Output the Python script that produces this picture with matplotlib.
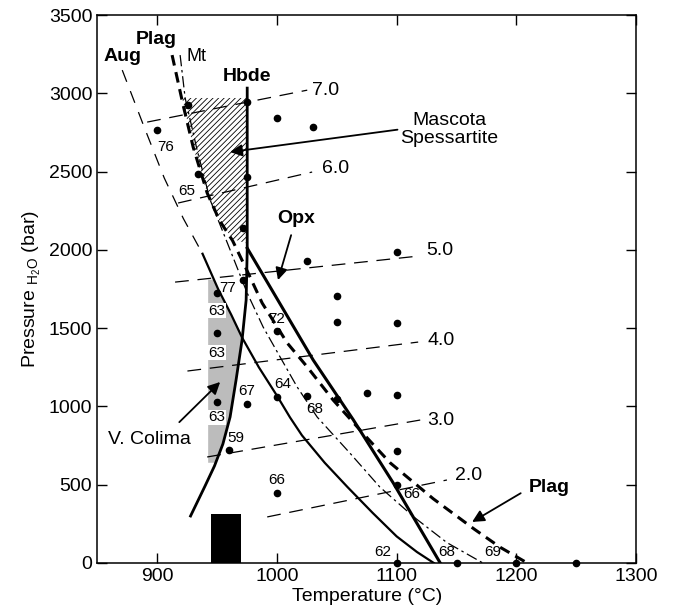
import matplotlib
matplotlib.use('Agg')
import matplotlib.pyplot as plt
import numpy as np

plt.rcParams['font.family'] = ['Liberation Sans', 'DejaVu Sans']
plt.rcParams['mathtext.fontset'] = 'custom'
plt.rcParams['mathtext.rm'] = 'Liberation Sans'
plt.rcParams['hatch.linewidth'] = 0.6

# phase boundaries (T in C, P in bar)
aug_dash_T = [871, 889, 906, 922, 938]
aug_dash_P = [3148, 2790, 2460, 2200, 1975]
aug_T = [938, 951, 962, 971, 985, 1000, 1011, 1021, 1040, 1059, 1080, 1100, 1117, 1131]
aug_P = [1975, 1750, 1585, 1440, 1250, 1070, 930, 815, 640, 485, 320, 170, 70, 0]

plag_T = [912.6, 921.8, 930.2, 941.9, 952, 963, 975, 987.8, 1008.7, 1025.4,
          1047, 1075.5, 1094.7, 1130.6, 1165, 1186.5, 1209]
plag_P = [3244, 2925, 2656, 2363, 2190, 2060, 1870, 1660, 1405, 1252,
          1041, 798, 639, 410, 215, 100, 0]

mt_T = [919.3, 923.5, 933.5, 944.4, 959.4, 975.3, 988.6, 1002.8, 1017, 1033.7,
        1061, 1086, 1115, 1142, 1172]
mt_P = [3244, 2969, 2637, 2318, 2031, 1724, 1507, 1315, 1124, 932,
        702, 485, 290, 130, 0]

hbde_T = [975.3, 975.3, 974.4, 971, 966, 961, 955, 948, 940, 928]
hbde_P = [3033, 1999, 1679, 1424, 1169, 932, 760, 620, 490, 300]

opx_T = [975.3, 1030.4, 1063.8, 1097.2, 1136.4]
opx_P = [2011, 1296, 915, 511, 0]

# shaded fields
hatch_T = [921, 975.3, 975.3, 963, 952, 941.9, 930.2, 921]
hatch_P = [2970, 2970, 2040, 2070, 2190, 2363, 2656, 2970]
grey_T = [942.7, 947.5, 951, 962, 971.2, 966, 961, 955, 949, 942.7]
grey_P = [1810, 1810, 1750, 1585, 1440, 1169, 932, 760, 640, 640]
box_T = [945, 970]
box_P = 310

# water isopleths: start/end points and labels
iso_labels = ['7.0', '6.0', '5.0', '4.0', '3.0', '2.0']
iso_T0 = [891.8, 917.6, 915.1, 925.4, 941.9, 992]
iso_P0 = [2816, 2299, 1794, 1226, 677, 294]
iso_T1 = [1025.4, 1029.5, 1118, 1118, 1119.7, 1142]
iso_P1 = [3020, 2497, 1960, 1411, 913, 530]
iso_lab_T = [1041, 1048.7, 1136.4, 1137, 1137, 1159.8]
iso_lab_P = [3020, 2522, 1999, 1418, 907, 556]

# experiments
pt_T = [900, 926, 975, 1000, 1030, 934, 975, 972, 1025, 1100, 972, 950, 1050, 1050,
        1100, 1000, 950, 950, 975, 1000, 1025, 1050, 1075, 1100, 960, 1100, 1000,
        1100, 1100, 1150, 1200, 1250]
pt_P = [2765, 2925, 2945, 2840, 2785, 2484, 2467, 2140, 1928, 1986, 1807, 1725, 1705, 1539,
        1530, 1481, 1467, 1027, 1016, 1061, 1066, 1047, 1086, 1073, 720, 715, 447,
        495, 0, 0, 0, 0]
pt_lab = ['76', '', '', '', '', '65', '', '', '', '', '77', '63', '', '',
          '', '72', '63', '63', '67', '64', '68', '', '', '', '59', '', '66',
          '66', '62', '68', '69', '']
lab_off = {0: (6, -12), 5: (-8, -12), 10: (-11, -6), 11: (0, -13), 15: (0, 9),
           16: (0, -14), 17: (0, -11), 18: (0, 9), 19: (4, 9), 20: (6, -9),
           24: (5, 9), 26: (0, 9), 27: (11, -6), 28: (-10, 8), 29: (-7, 8), 30: (-17, 8)}

fig = plt.figure(figsize=(6.79, 6.15), dpi=100)
ax = fig.add_axes([0.143, 0.0846, 0.794, 0.891])

ax.fill(grey_T, grey_P, facecolor='#bcbcbc', edgecolor='none', zorder=1)
ax.fill(hatch_T, hatch_P, facecolor='none', edgecolor='black', hatch='//////', lw=0, zorder=1)
ax.bar((box_T[0] + box_T[1]) / 2, box_P, width=box_T[1] - box_T[0], color='black', zorder=2)

for i in range(len(iso_labels)):
    ax.plot([iso_T0[i], iso_T1[i]], [iso_P0[i], iso_P1[i]], color='black', lw=0.9,
            linestyle=(0, (11, 7)), zorder=2)
    ax.text(iso_lab_T[i], iso_lab_P[i], iso_labels[i], fontsize=14, ha='center', va='center')

ax.plot(aug_dash_T, aug_dash_P, color='black', lw=0.9, linestyle=(0, (10, 8)), zorder=3)
ax.plot(aug_T, aug_P, color='black', lw=1.6, zorder=3)
ax.plot(mt_T, mt_P, color='black', lw=0.9, linestyle=(0, (9, 3, 2, 3)), zorder=3)
ax.plot(plag_T, plag_P, color='black', lw=2.2, linestyle=(0, (3.5, 2.2)), zorder=3)
ax.plot(hbde_T, hbde_P, color='black', lw=2.0, zorder=3)
ax.plot(opx_T, opx_P, color='black', lw=2.2, zorder=3)

ax.plot(pt_T, pt_P, 'o', color='black', ms=4.5, clip_on=False, zorder=5)
for i, lab in enumerate(pt_lab):
    if lab:
        box = None
        if lab == '63':
            box = dict(facecolor='white', edgecolor='none', pad=0.3)
        ax.annotate(lab, (pt_T[i], pt_P[i]), xytext=lab_off[i], textcoords='offset points',
                    ha='center', va='center', fontsize=11, bbox=box, zorder=4)

# phase names
ax.text(871, 3235, 'Aug', fontsize=14, fontweight='bold', ha='center', va='center')
ax.text(899, 3345, 'Plag', fontsize=14, fontweight='bold', ha='center', va='center')
ax.text(933, 3235, 'Mt', fontsize=13, ha='center', va='center')
ax.text(975, 3110, 'Hbde', fontsize=14, fontweight='bold', ha='center', va='center')

arrow = dict(arrowstyle='-|>', color='black', lw=1.3, mutation_scale=18)
ax.annotate('Mascota\nSpessartite', xy=(961, 2625), xytext=(1144, 2770), fontsize=14,
            ha='center', va='center', linespacing=1.1, arrowprops=dict(arrow, shrinkA=0, shrinkB=0,
            relpos=(0, 0.5)))
ax.annotate('Opx', xy=(1001, 1807), xytext=(1016, 2200), fontsize=14, fontweight='bold',
            ha='center', va='center', arrowprops=dict(arrow, shrinkA=4, shrinkB=0))
ax.annotate('V. Colima', xy=(952.7, 1156), xytext=(894, 790), fontsize=14,
            ha='center', va='center', arrowprops=dict(arrow, shrinkA=6, shrinkB=0, relpos=(0.75, 1)))
ax.annotate('Plag', xy=(1163, 262), xytext=(1227, 485), fontsize=14, fontweight='bold',
            ha='center', va='center', arrowprops=dict(arrow, shrinkA=4, shrinkB=0, relpos=(0, 0.4)))

ax.set_xlim(850, 1300)
ax.set_ylim(0, 3500)
ax.set_xticks([900, 1000, 1100, 1200, 1300])
ax.set_yticks(np.arange(0, 3501, 500))
ax.tick_params(direction='in', length=7, width=1, top=True, right=True, labelsize=14)
for s in ax.spines.values():
    s.set_linewidth(1.1)
ax.set_xlabel('Temperature (°C)', fontsize=14, labelpad=2)
ax.set_ylabel(r'Pressure $_{\mathregular{H_2O}}$ (bar)', fontsize=14, labelpad=4)

fig.savefig('out.png', dpi=100)
